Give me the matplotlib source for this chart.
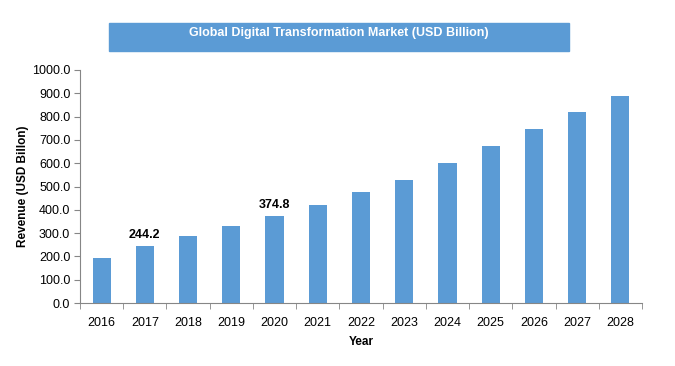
import matplotlib.pyplot as plt
import numpy as np
from matplotlib.patches import Rectangle

years = ['2016', '2017', '2018', '2019', '2020', '2021', '2022',
         '2023', '2024', '2025', '2026', '2027', '2028']
revenue = [194.0, 244.2, 289.0, 331.0, 374.8, 421.0, 477.0,
           529.0, 601.0, 674.0, 747.0, 820.0, 889.0]
labeled = {'2017': '244.2', '2020': '374.8'}

blue = '#5B9BD5'
gray = '#868686'

plt.rcParams['font.family'] = ['Liberation Sans', 'DejaVu Sans']

fig = plt.figure(figsize=(6.75, 3.66), dpi=100)
ax = fig.add_axes([80 / 675, 1 - 303 / 366, 562 / 675, 233 / 366])

x = np.arange(len(years))
ax.bar(x, revenue, width=0.42, color=blue, zorder=2)

for i, y in enumerate(years):
    if y in labeled:
        ax.text(i, revenue[i] + 22, labeled[y], ha='center', va='bottom',
                fontsize=9, fontweight='bold', color='#000000')

ax.set_xlim(-0.5, len(years) - 0.5)
ax.set_ylim(0, 1000)
ax.set_yticks(np.arange(0, 1001, 100))
ax.set_yticklabels([f'{v:.1f}' for v in np.arange(0, 1001, 100)], fontsize=9)
ax.set_xticks(x)
ax.set_xticklabels(years, fontsize=9)
ax.set_xticks(np.arange(-0.5, len(years), 1), minor=True)
ax.tick_params(axis='x', which='major', length=0, pad=10)
ax.tick_params(axis='x', which='minor', length=4, color=gray, direction='out')
ax.tick_params(axis='y', length=4, color=gray, direction='out', pad=3)

for s in ['top', 'right']:
    ax.spines[s].set_visible(False)
for s in ['left', 'bottom']:
    ax.spines[s].set_color(gray)

ax.set_xlabel('Year', fontsize=8.5, fontweight='bold', labelpad=5)
ax.set_ylabel('Revenue (USD Billon)', fontsize=8.5, fontweight='bold', labelpad=2)

# title banner
fig.patches.append(Rectangle((109 / 675, 1 - 51 / 366), 460 / 675, 28 / 366,
                             transform=fig.transFigure, color=blue, zorder=0))
fig.text(339 / 675, 1 - 33 / 366, 'Global Digital Transformation Market (USD Billion)',
         ha='center', va='center', color='white', fontsize=9, fontweight='bold')

fig.savefig('out.png', dpi=100)
